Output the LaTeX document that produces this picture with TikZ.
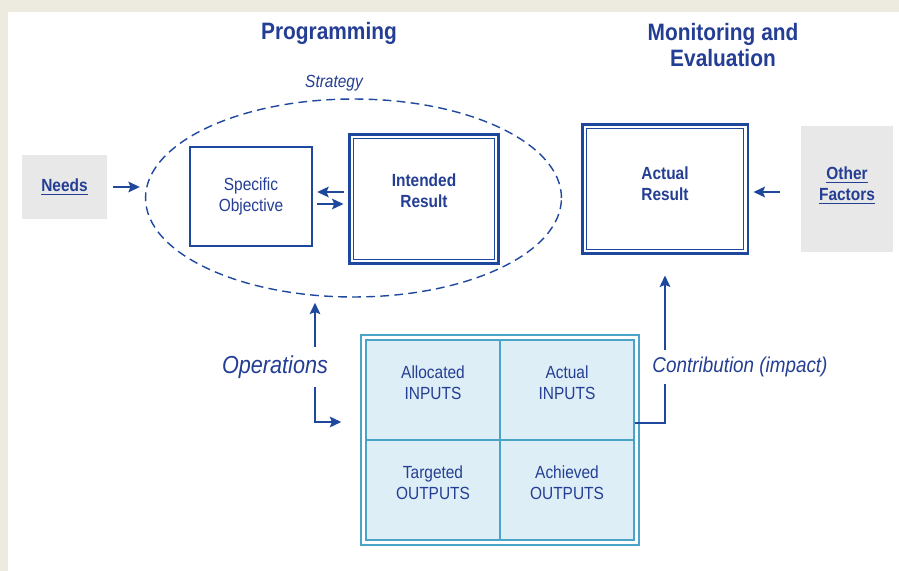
\documentclass[tikz,border=0pt]{standalone}
\usepackage{fontspec}
\setmainfont{Liberation Sans}[FakeStretch=0.88]
\usepackage{xcolor}
\usetikzlibrary{shapes.geometric, fit, calc, arrows.meta}

\definecolor{pagebeige}{RGB}{237,234,224}
\definecolor{lineblue}{RGB}{30,72,158}
\definecolor{textblue}{RGB}{36,62,148}
\definecolor{boxgrey}{RGB}{232,232,232}
\definecolor{tblborder}{RGB}{74,164,200}
\definecolor{tblfill}{RGB}{222,238,246}

\begin{document}
\begin{tikzpicture}[
  x=0.02cm, y=-0.02cm,
  every node/.style={text=textblue, font=\fontsize{10}{12}\selectfont},
  title/.style={font=\fontsize{13.5}{15.3}\selectfont\bfseries, align=center},
  box/.style={rectangle, draw=lineblue, fill=white, line width=1.4pt, align=center},
  dbox/.style={box, line width=1.7pt, font=\fontsize{10}{12}\selectfont\bfseries,
               path picture={\draw[line width=0.8pt, lineblue]
                 ([shift={(2.4pt,-2.4pt)}]path picture bounding box.north west) rectangle
                 ([shift={(-2.4pt,2.4pt)}]path picture bounding box.south east);}},
  greybox/.style={rectangle, fill=boxgrey, align=center, font=\fontsize{10}{12}\selectfont\bfseries},
  cell/.style={rectangle, draw=tblborder, fill=tblfill, line width=0.7pt, align=center,
               minimum width=2.68cm, minimum height=2cm, text depth=8pt},
  arrow/.style={-{Stealth[length=6.5pt, width=6pt, inset=1.2pt]}, draw=lineblue, line width=1.2pt},
  link/.style={draw=lineblue, line width=0.8pt}
]

%% ---- page ----
\fill[pagebeige] (0,0) rectangle (899,571);
\fill[white] (8,12) rectangle (899,571);

%% ---- titles ----
\node[title] (prog) at (329,33) {Programming};
\node[title] (mne)  at (723,45) {Monitoring and\\Evaluation};

%% ---- strategy ----
\node[font=\fontsize{10}{12}\selectfont\itshape] (strat) at (334,83) {Strategy};
\node[ellipse, draw=lineblue, line width=0.8pt, dash pattern=on 5pt off 3pt,
      minimum width=8.32cm, minimum height=3.96cm] (strategy) at (353.5,198) {};

\node[greybox, minimum width=1.7cm, minimum height=1.28cm] (needs) at (64.5,187) {\underline{Needs}};
\node[box, minimum width=2.44cm, minimum height=1.98cm] (spec) at (251,196.5) {Specific\\Objective};
\node[dbox, minimum width=3cm, minimum height=2.6cm, text depth=10pt] (int) at (424,199) {Intended\\Result};

%% ---- monitoring ----
\node[dbox, minimum width=3.32cm, minimum height=2.6cm, text depth=6pt] (actual) at (665,189) {Actual\\Result};
\node[greybox, minimum width=1.84cm, minimum height=2.52cm, text depth=6pt] (other) at (847,189) {\underline{Other}\\\underline{Factors}};

%% ---- operations table ----
\node[cell] (alloc)    at (433,390) {Allocated\\INPUTS};
\node[cell] (actin)    at (567,390) {Actual\\INPUTS};
\node[cell] (target)   at (433,490) {Targeted\\OUTPUTS};
\node[cell] (achieved) at (567,490) {Achieved\\OUTPUTS};
\node[fit=(alloc)(achieved), draw=tblborder, line width=0.7pt, inner sep=0.09cm] (frame) {};

\node[font=\fontsize{14}{16}\selectfont\itshape, minimum height=0.8cm] (ops) at (275,367) {Operations};
\node[font=\fontsize{12.2}{14}\selectfont\itshape, minimum height=0.68cm] (contrib) at (740,367) {Contribution (impact)};
\coordinate (opx) at (315,0);

%% ---- arrows ----
\draw[arrow, shorten <=0.12cm, shorten >=0.1cm] (needs.east) -- (needs.east -| strategy.west);
\draw[arrow, shorten <=0.08cm, shorten >=0.08cm] (int.west |- 0,192) -- (spec.east |- 0,192);
\draw[arrow, shorten <=0.08cm, shorten >=0.08cm] (spec.east |- 0,204) -- (int.west |- 0,204);
\draw[arrow, shorten <=0.42cm, shorten >=0.08cm] (other.west |- 0,192) -- (actual.east |- 0,192);
\draw[arrow, shorten >=0.1cm] (opx |- ops.north) -- (opx |- strategy.south);
\draw[arrow, shorten >=0.38cm] (opx |- ops.south) |- (frame.west |- 0,422);
\draw[link] (actin.east |- 0,423) -| (actual.south |- contrib.south);
\draw[arrow, shorten >=0.4cm] (actual.south |- contrib.north) -- (actual.south);
\end{tikzpicture}
\end{document}
